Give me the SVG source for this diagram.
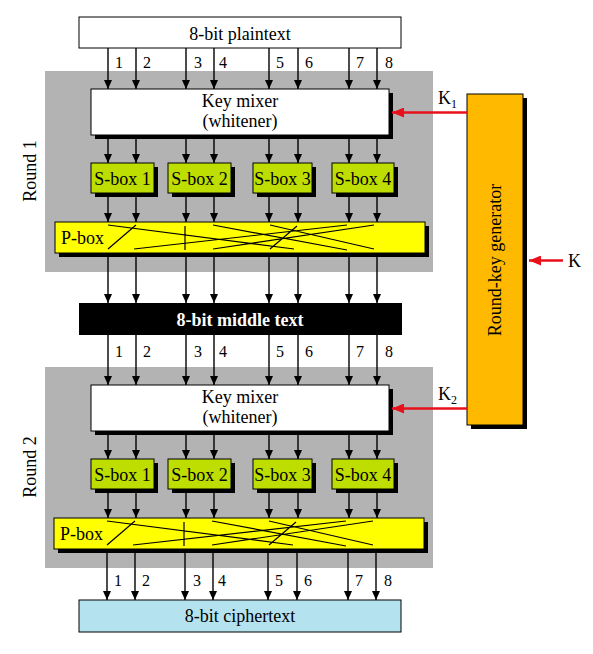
<svg xmlns="http://www.w3.org/2000/svg" width="593" height="654" viewBox="0 0 593 654">
<style>
text{font-family:"Liberation Serif","Times New Roman",serif;font-size:18px;fill:#000}
.c{text-anchor:middle}
.n{font-size:16px;text-anchor:middle}
.sh{fill:#000}
.gray{fill:#B3B3B3}
.wb{fill:#fff;stroke:#000;stroke-width:1}
.sb{fill:#BEDD00;stroke:#000;stroke-width:1}
.pb{fill:#FFFF00;stroke:#000;stroke-width:1}
.pl{stroke:#000;stroke-width:1.2;fill:none}
.ar line{stroke:#000;stroke-width:1.4;marker-end:url(#ah)}
.ra{stroke:#E8101A;stroke-width:2.6;fill:none;marker-end:url(#rh)}
</style>
<defs>
<marker id="ah" markerWidth="9" markerHeight="8" refX="9" refY="4" orient="auto" markerUnits="userSpaceOnUse"><path d="M0,0L9,4L0,8z" fill="#000"/></marker>
<marker id="rh" markerWidth="12" markerHeight="10" refX="12" refY="5" orient="auto" markerUnits="userSpaceOnUse"><path d="M0,0L12,5L0,10z" fill="#E8101A"/></marker>
</defs>

<g id="round1-bg"><rect class="gray" x="45" y="71" width="388" height="201"/><text transform="translate(36,171) rotate(-90)" class="c">Round 1</text></g>
<g id="round2-bg"><rect class="gray" x="45" y="367" width="388" height="201"/><text transform="translate(36,467) rotate(-90)" class="c">Round 2</text></g>

<g id="plaintext"><rect class="wb" x="79" y="17" width="322" height="31"/><text class="c" x="240" y="39.5">8-bit plaintext</text></g>

<g id="keymixer1"><rect class="sh" x="95" y="93" width="298" height="46"/><rect class="wb" x="91" y="89" width="298" height="46"/><text class="c" x="240" y="107">Key mixer</text><text class="c" x="240" y="127">(whitener)</text></g>
<g id="sbox1-1"><rect class="sh" x="95" y="167" width="63" height="30"/><rect class="sb" x="91" y="163" width="63" height="30"/><text class="c" x="122.5" y="185">S-box 1</text></g>
<g id="sbox1-2"><rect class="sh" x="172" y="167" width="63" height="30"/><rect class="sb" x="168" y="163" width="63" height="30"/><text class="c" x="199.5" y="185">S-box 2</text></g>
<g id="sbox1-3"><rect class="sh" x="257" y="167" width="59" height="30"/><rect class="sb" x="253" y="163" width="59" height="30"/><text class="c" x="282.5" y="185">S-box 3</text></g>
<g id="sbox1-4"><rect class="sh" x="336" y="167" width="62" height="30"/><rect class="sb" x="332" y="163" width="62" height="30"/><text class="c" x="363" y="185">S-box 4</text></g>
<g id="pbox1"><rect class="sh" x="59" y="226" width="370" height="31"/><rect class="pb" x="55" y="222" width="370" height="31"/><text x="61" y="244">P-box</text>
<path class="pl" d="M108,249L136,225M108,225L294,249M134,249L347,225M185,226L185,250M213,225L347,250M213,249L374,225M270,225L374,249M270,249L297,226"/></g>

<g id="middletext"><rect fill="#000" x="79" y="303" width="323" height="32"/><text class="c" x="240" y="325.5" style="font-weight:bold;fill:#fff">8-bit middle text</text></g>

<g id="keymixer2"><rect class="sh" x="95" y="389" width="298" height="46"/><rect class="wb" x="91" y="385" width="298" height="46"/><text class="c" x="240" y="403">Key mixer</text><text class="c" x="240" y="423">(whitener)</text></g>
<g id="sbox2-1"><rect class="sh" x="95" y="463" width="63" height="30"/><rect class="sb" x="91" y="459" width="63" height="30"/><text class="c" x="122.5" y="481">S-box 1</text></g>
<g id="sbox2-2"><rect class="sh" x="172" y="463" width="63" height="30"/><rect class="sb" x="168" y="459" width="63" height="30"/><text class="c" x="199.5" y="481">S-box 2</text></g>
<g id="sbox2-3"><rect class="sh" x="257" y="463" width="59" height="30"/><rect class="sb" x="253" y="459" width="59" height="30"/><text class="c" x="282.5" y="481">S-box 3</text></g>
<g id="sbox2-4"><rect class="sh" x="336" y="463" width="62" height="30"/><rect class="sb" x="332" y="459" width="62" height="30"/><text class="c" x="363" y="481">S-box 4</text></g>
<g id="pbox2"><rect class="sh" x="58" y="522" width="370" height="31"/><rect class="pb" x="54" y="518" width="370" height="31"/><text x="60" y="540">P-box</text>
<path class="pl" d="M107,545L135,521M107,521L293,545M133,545L346,521M184,522L184,546M212,521L346,546M212,545L373,521M269,521L373,545M269,545L296,522"/></g>

<g id="ciphertext"><rect fill="#B5E2EF" stroke="#000" stroke-width="1" x="79" y="600" width="322" height="32"/><text class="c" x="240" y="621.5">8-bit ciphertext</text></g>

<g id="roundkeygen"><rect class="sh" x="471" y="98" width="56" height="331"/><rect fill="#FFBA00" stroke="#000" stroke-width="1" x="467" y="94" width="56" height="331"/><text class="c" transform="translate(495,260) rotate(-90)" y="6">Round-key generator</text></g>

<g id="connectors" class="ar">
<line x1="108" y1="48" x2="108" y2="89"/><line x1="136" y1="48" x2="136" y2="89"/><line x1="186" y1="48" x2="186" y2="89"/><line x1="214" y1="48" x2="214" y2="89"/><line x1="269" y1="48" x2="269" y2="89"/><line x1="298" y1="48" x2="298" y2="89"/><line x1="349" y1="48" x2="349" y2="89"/><line x1="377" y1="48" x2="377" y2="89"/>
<line x1="108" y1="139" x2="108" y2="163"/><line x1="136" y1="139" x2="136" y2="163"/><line x1="186" y1="139" x2="186" y2="163"/><line x1="214" y1="139" x2="214" y2="163"/><line x1="269" y1="139" x2="269" y2="163"/><line x1="298" y1="139" x2="298" y2="163"/><line x1="349" y1="139" x2="349" y2="163"/><line x1="377" y1="139" x2="377" y2="163"/>
<line x1="108" y1="197" x2="108" y2="222"/><line x1="136" y1="197" x2="136" y2="222"/><line x1="186" y1="197" x2="186" y2="222"/><line x1="214" y1="197" x2="214" y2="222"/><line x1="269" y1="197" x2="269" y2="222"/><line x1="298" y1="197" x2="298" y2="222"/><line x1="349" y1="197" x2="349" y2="222"/><line x1="377" y1="197" x2="377" y2="222"/>
<line x1="108" y1="257" x2="108" y2="303"/><line x1="136" y1="257" x2="136" y2="303"/><line x1="186" y1="257" x2="186" y2="303"/><line x1="214" y1="257" x2="214" y2="303"/><line x1="269" y1="257" x2="269" y2="303"/><line x1="298" y1="257" x2="298" y2="303"/><line x1="349" y1="257" x2="349" y2="303"/><line x1="377" y1="257" x2="377" y2="303"/>
<line x1="108" y1="335" x2="108" y2="385"/><line x1="136" y1="335" x2="136" y2="385"/><line x1="186" y1="335" x2="186" y2="385"/><line x1="214" y1="335" x2="214" y2="385"/><line x1="269" y1="335" x2="269" y2="385"/><line x1="298" y1="335" x2="298" y2="385"/><line x1="349" y1="335" x2="349" y2="385"/><line x1="377" y1="335" x2="377" y2="385"/>
<line x1="108" y1="435" x2="108" y2="459"/><line x1="136" y1="435" x2="136" y2="459"/><line x1="186" y1="435" x2="186" y2="459"/><line x1="214" y1="435" x2="214" y2="459"/><line x1="269" y1="435" x2="269" y2="459"/><line x1="298" y1="435" x2="298" y2="459"/><line x1="349" y1="435" x2="349" y2="459"/><line x1="377" y1="435" x2="377" y2="459"/>
<line x1="108" y1="493" x2="108" y2="518"/><line x1="136" y1="493" x2="136" y2="518"/><line x1="186" y1="493" x2="186" y2="518"/><line x1="214" y1="493" x2="214" y2="518"/><line x1="269" y1="493" x2="269" y2="518"/><line x1="298" y1="493" x2="298" y2="518"/><line x1="349" y1="493" x2="349" y2="518"/><line x1="377" y1="493" x2="377" y2="518"/>
<line x1="107" y1="553" x2="107" y2="600"/><line x1="135" y1="553" x2="135" y2="600"/><line x1="185" y1="553" x2="185" y2="600"/><line x1="213" y1="553" x2="213" y2="600"/><line x1="268" y1="553" x2="268" y2="600"/><line x1="297" y1="553" x2="297" y2="600"/><line x1="348" y1="553" x2="348" y2="600"/><line x1="376" y1="553" x2="376" y2="600"/>
<path class="ra" d="M467,112.5H392"/>
<path class="ra" d="M467,408.5H392"/>
<path class="ra" d="M563,260.5H529"/>
</g>

<g id="labels">
<text class="n" x="119" y="68">1</text><text class="n" x="147" y="68">2</text><text class="n" x="198" y="68">3</text><text class="n" x="223" y="68">4</text><text class="n" x="280" y="68">5</text><text class="n" x="309" y="68">6</text><text class="n" x="360" y="68">7</text><text class="n" x="389" y="68">8</text>
<text class="n" x="119" y="357">1</text><text class="n" x="147" y="357">2</text><text class="n" x="198" y="357">3</text><text class="n" x="223" y="357">4</text><text class="n" x="280" y="357">5</text><text class="n" x="309" y="357">6</text><text class="n" x="360" y="357">7</text><text class="n" x="389" y="357">8</text>
<text class="n" x="118" y="586">1</text><text class="n" x="146" y="586">2</text><text class="n" x="197" y="586">3</text><text class="n" x="222" y="586">4</text><text class="n" x="279" y="586">5</text><text class="n" x="308" y="586">6</text><text class="n" x="359" y="586">7</text><text class="n" x="388" y="586">8</text>
<text x="438" y="104">K<tspan font-size="12" dy="4">1</tspan></text>
<text x="438" y="400">K<tspan font-size="12" dy="4">2</tspan></text>
<text x="568" y="267">K</text>
</g>
</svg>
